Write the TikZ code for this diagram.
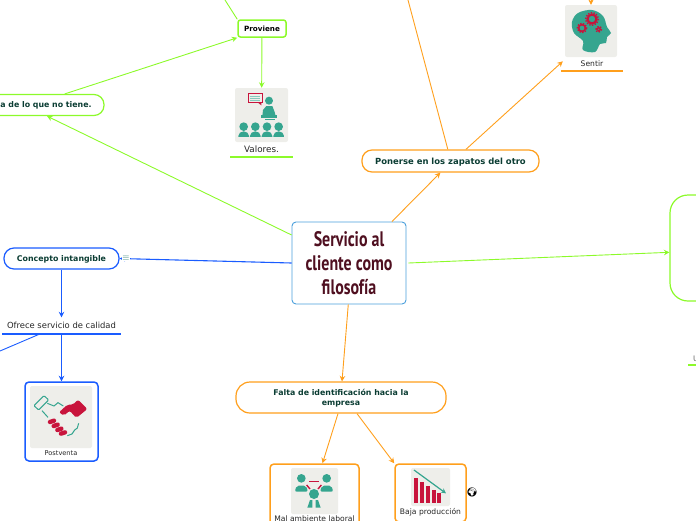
\documentclass[tikz,border=0pt]{standalone}
\usepackage{fontspec}
\setmainfont{DejaVu Sans}
\newfontfamily\titlefont[FakeStretch=0.76]{PT Sans}
\newfontfamily\emojifont{Noto Emoji}
\usetikzlibrary{arrows.meta}
\definecolor{limeline}{HTML}{8CFA2A}
\definecolor{orangeline}{HTML}{FF9F1C}
\definecolor{blueline}{HTML}{1A5CFF}
\definecolor{skyline}{HTML}{4A9FDC}
\definecolor{inkgreen}{HTML}{0B3D33}
\definecolor{iconteal}{HTML}{35A58F}
\definecolor{iconred}{HTML}{C8143C}
\definecolor{iconbg}{HTML}{EEEEEA}
\definecolor{titleink}{HTML}{4F0F20}
\tikzset{
    topic/.style={draw, rounded corners=10pt, fill=white, line width=1.2pt, font=\bfseries\fontsize{7.85}{10.5}\selectfont, text=inkgreen, align=center, inner sep=0pt, text depth=0pt},
    framed/.style={draw, rounded corners=4pt, fill=white, line width=1.5pt, inner sep=0pt},
    iconback/.style={fill=iconbg, rounded corners=2pt, inner sep=0pt},
    caption/.style={font=\fontsize{7.6}{9}\selectfont, text=black!85, inner sep=0pt},
    link/.style={line width=0.9pt, -{Stealth[length=5.5pt,width=5.5pt]}},
    plainlink/.style={line width=0.9pt}
}
\begin{document}
\begin{tikzpicture}[x=1pt, y=-1pt]
    \useasboundingbox (0,0) rectangle (696,520);
    %--------------------%
    % Free ends
    %--------------------%
    \coordinate (provienefrom) at (225,0);
    \coordinate (ponerseup) at (408,0);
    \coordinate (sentirfrom) at (591,-3);
    \coordinate (ofreceleft) at (0,351);

    %--------------------%
    % Centre
    %--------------------%
    \node[draw=skyline, fill=white, rounded corners=4pt, line width=0.9pt, minimum width=114pt, minimum height=82pt, inner sep=0pt, align=center, text=titleink, font=\titlefont\bfseries\fontsize{21}{24}\selectfont] (title) at (349,263) {Servicio al\\cliente como\\filosofía};

    %--------------------%
    % Green branch
    %--------------------%
    \node[topic, draw=limeline, minimum width=114pt, minimum height=21pt] (lack) at (47,105) {a de lo que no tiene.\hspace*{2pt}};
    \node[topic, draw=limeline, rounded corners=2.5pt, line width=1.5pt, text=black, font=\bfseries\fontsize{7.2}{9}\selectfont, minimum width=48pt, minimum height=17pt] (proviene) at (262,28.5) {Proviene};
    \node[iconback, minimum width=53pt, minimum height=54pt] (valoresicon) at (261.5,115) {};
    \node[caption, font=\fontsize{8.8}{10}\selectfont, minimum width=63pt, minimum height=14pt] (valores) at (261.5,149.5) {Valores.};
    \fill[limeline] ([yshift=-1pt]valores.south west) rectangle ([yshift=1pt]valores.south east);
    \node[draw=limeline, fill=white, rounded corners=18pt, line width=1.2pt, minimum width=60pt, minimum height=106pt, inner sep=0pt] (rightbox) at (700,248) {};
    \node[caption, minimum width=16pt, minimum height=12pt, text=black!60] (rightlabel) at (696,359) {U};
    \fill[limeline] ([yshift=-1pt]rightlabel.south west) rectangle ([yshift=1pt]rightlabel.south east);

    \draw[link, limeline] (title.154) -- (lack.south);
    \draw[link, limeline] (lack.32) -- (proviene.south west);
    \draw[plainlink, limeline] (provienefrom) -- (proviene.north west);
    \draw[link, limeline] (proviene) -- (valoresicon);
    \draw[link, limeline] ([xshift=2pt]title.east) -- (rightbox.188);

    %--------------------%
    % Orange branch
    %--------------------%
    \node[topic, draw=orangeline, font=\bfseries\fontsize{8.45}{10}\selectfont, minimum width=177pt, minimum height=22pt] (ponerse) at (450.5,161) {Ponerse en los zapatos del otro};
    \node[iconback, minimum size=52pt] (sentiricon) at (591,31) {};
    \node[caption, minimum width=62pt, minimum height=14pt] (sentir) at (592,63.5) {Sentir};
    \fill[orangeline] ([yshift=-1pt]sentir.south west) rectangle ([yshift=1pt]sentir.south east);
    \node[topic, draw=orangeline, rounded corners=14pt, minimum width=210pt, minimum height=31pt] (falta) at (341,397.5) {Falta de identificación hacia la\\empresa};
    \node[framed, draw=orangeline, minimum width=89pt, minimum height=66pt] (malbox) at (314.5,497) {};
    \node[framed, draw=orangeline, minimum width=71pt, minimum height=58pt] (bajabox) at (430.5,493) {};
    \node[iconback, minimum width=47pt, minimum height=46pt] (malicon) at (314.5,491) {};
    \node[iconback, minimum width=39pt, minimum height=38pt] (bajaicon) at (430.5,487) {};
    \node[caption] (mal) at (314.5,519) {Mal ambiente laboral};
    \node[caption] (baja) at (430.5,512.5) {Baja producción};
    \node[inner sep=0pt, font=\emojifont\fontsize{9}{9}\selectfont] (globe) at (472,492) {🌍};

    \draw[link, orangeline] (title.44) -- (ponerse.229);
    \draw[plainlink, orangeline] (ponerse.103) -- (ponerseup);
    \draw[link, orangeline] (ponerse.37) -- ([shift={(2,5)}]sentir.north west);
    \draw[link, orangeline] (sentirfrom) -- (sentiricon.north);
    \draw[link, orangeline] (title.269) -- ([xshift=1pt]falta.north);
    \draw[link, orangeline] ([xshift=-3pt]falta.south) -- ([xshift=8pt]malbox.north);
    \draw[link, orangeline] ([xshift=16pt]falta.south) -- (bajabox.north west);

    %--------------------%
    % Blue branch
    %--------------------%
    \node[topic, draw=blueline, minimum width=115pt, minimum height=21pt] (concepto) at (61.5,258.5) {Concepto intangible};
    \node[caption, font=\fontsize{8.4}{10}\selectfont, minimum width=119pt, minimum height=16pt] (ofrece) at (61.5,325.5) {Ofrece servicio de calidad};
    \fill[blueline] ([yshift=-1pt]ofrece.south west) rectangle ([yshift=1pt]ofrece.south east);
    \node[framed, draw=blueline, minimum width=73pt, minimum height=79pt] (postbox) at (61.5,421.5) {};
    \node[iconback, minimum width=62pt, minimum height=62pt] (posticon) at (61,417) {};
    \node[caption, font=\fontsize{6.6}{8}\selectfont] (post) at (61,453.5) {Postventa};

    \draw[link, blueline, line width=1.1pt] (title.west) -- (concepto.east);
    \node[inner sep=0pt, fill=white, minimum width=7pt, text=iconteal!75!black, font=\fontsize{9}{9}\selectfont] (notes) at (126,258.5) {$\equiv$};
    \draw[link, blueline] (concepto) -- (ofrece.north);
    \draw[plainlink, blueline] ([xshift=-21pt]ofrece.south) -- (ofreceleft);
    \draw[link, blueline] (ofrece.south) -- (postbox.north);

    %--------------------%
    % Icon Valores
    %--------------------%
    \begin{scope}[shift={(233,86)}, scale=0.3333]
        \draw[iconred, line width=0.8pt, fill=iconbg] (45,22) rectangle (87,50);
        \foreach \ly in {30,36,42} {
            \draw[iconteal!60, line width=0.6pt] (52,\ly) -- (80,\ly);
        }
        \fill[iconred] (75,50) -- (85,58) -- (85,50) -- cycle;
        \fill[iconteal] (108,44) circle (12);
        \fill[iconteal] (90,72) -- (100,60) -- (118,60) -- (125,78) -- (128,90) -- (88,90) -- cycle;
        \fill[iconteal] (85,88) rectangle (133,96);
        \fill[iconteal] (95,98) rectangle (125,103);
        \foreach \hx in {32,67,102,137} {
            \fill[iconteal] (\hx,122) circle (13);
            \fill[iconteal] (\hx-16,153) -- (\hx-16,150) arc[start angle=180, end angle=360, x radius=16, y radius=14] -- (\hx+16,153) -- cycle;
        }
    \end{scope}

    %--------------------%
    % Icon Sentir
    %--------------------%
    \fill[iconteal] plot[smooth cycle, tension=0.6] coordinates {(583,50) (583,41) (574,33) (572,22) (578,13) (592,10) (603,16) (607,27) (611,33) (607,37) (606,43) (600,44) (595,52)};
    \foreach \gx/\gy/\gr/\gw in {592/19/4.5/2.2, 582/28/3.4/1.6, 598.7/29.3/1.8/1.2} {
        \draw[iconred, line width=\gw pt] (\gx,\gy) circle (\gr);
        \draw[iconred, line width=1.4pt, dash pattern=on 1.4pt off 1.4pt] (\gx,\gy) circle (\gr+\gw*0.8);
    }

    %--------------------%
    % Icon Postventa
    %--------------------%
    \begin{scope}[shift={(28,384)}, scale=0.3333]
        \draw[iconteal, line width=1pt, rounded corners=1pt] (18,65) -- (48,35) -- (62,48) -- (32,78) -- cycle;
        \draw[iconteal, line width=1pt] (58,58) -- (78,66) -- (90,56) -- (106,66);
        \draw[iconteal, line width=1pt] (42,80) -- (60,100);
        \draw[iconteal, line width=1pt] (118,155) -- (132,150) -- (140,138) -- (148,132) -- (152,118);
        \fill[iconred, rounded corners=2pt] (93,85) -- (118,62) -- (135,62) -- (150,47) -- (178,75) -- (145,102) -- (125,80) -- (108,95) -- cycle;
        \foreach \fx/\fy in {72/113, 83/125, 94/137, 105/148} {
            \draw[iconred, line width=4.4pt, line cap=round] (\fx-6,\fy+1) -- (\fx+6,\fy-3);
        }
    \end{scope}

    %--------------------%
    % Icon Mal ambiente
    %--------------------%
    \begin{scope}[shift={(289,465)}, scale=0.3333]
        \foreach \hx in {37,113} {
            \fill[iconteal] (\hx,40) circle (13);
            \fill[iconteal, rounded corners=2pt] (\hx-20,80) -- (\hx-14,62) -- (\hx+14,62) -- (\hx+20,80) -- cycle;
        }
        \fill[iconbg] (75,87) circle (19);
        \fill[iconteal] (75,87) circle (15);
        \fill[iconteal] (55,128) -- (63,105) -- (70,105) -- (70,128) -- cycle;
        \fill[iconteal] (80,128) -- (80,105) -- (87,105) -- (95,128) -- cycle;
        \draw[iconred, line width=1.4pt] (60,50) -- (90,50);
        \draw[iconred, line width=1.4pt] (53,60) -- (63,72);
        \draw[iconred, line width=1.4pt] (97,60) -- (87,72);
    \end{scope}

    %--------------------%
    % Icon Baja
    %--------------------%
    \begin{scope}[shift={(260,450)}, scale=0.3333]
        \foreach \bx/\by in {463/83, 480/97, 498/107, 515/120, 532/130} {
            \fill[iconred] (\bx,\by) rectangle (\bx+12,160);
        }
        \draw[iconteal, line width=1.2pt, -{Stealth[length=5pt,width=5pt]}] (462,60) -- (558,130);
    \end{scope}

\end{tikzpicture}
\end{document}
